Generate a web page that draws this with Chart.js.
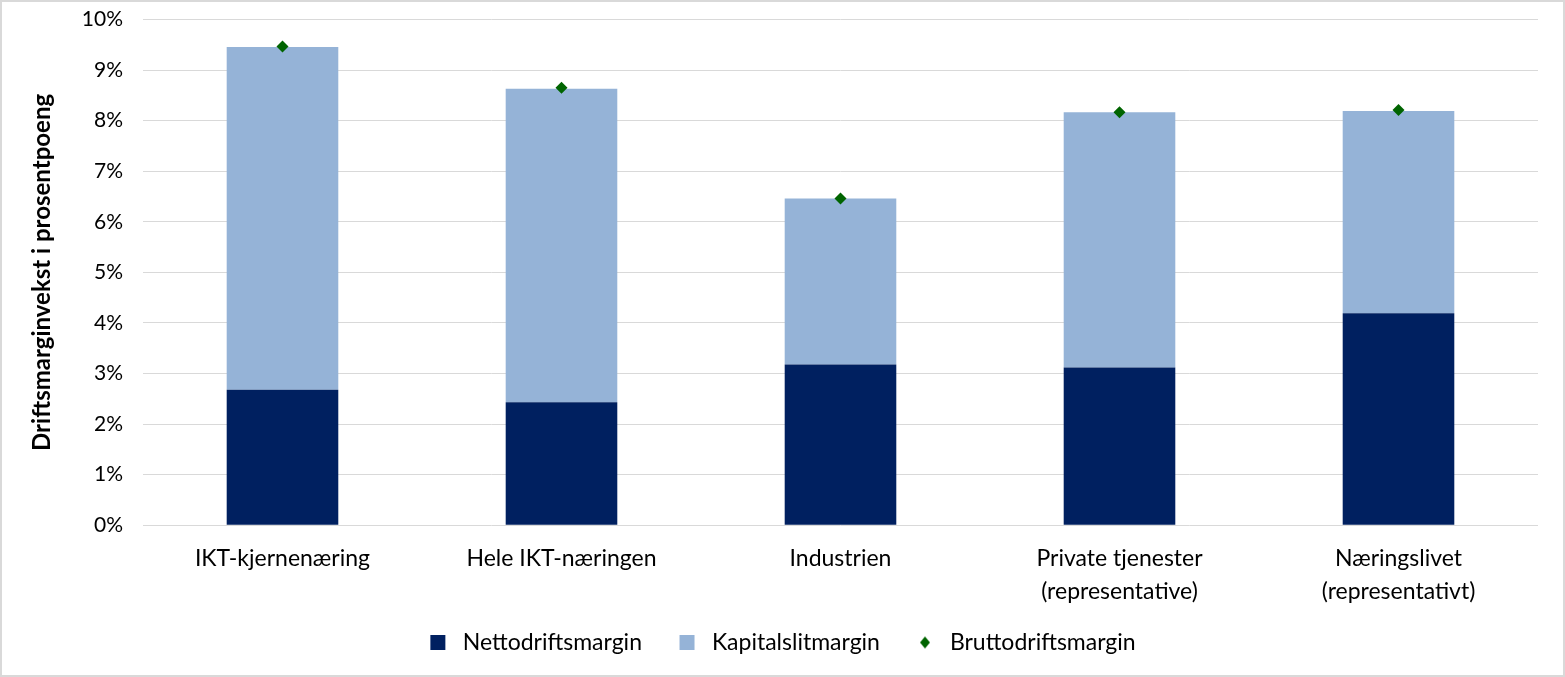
<!DOCTYPE html>
<html>
<head>
<meta charset="utf-8">
<script src="https://cdn.jsdelivr.net/npm/chart.js@4.4.1/dist/chart.umd.min.js"></script>
<style>
  html, body { margin: 0; padding: 0; background: #fff; }
  #wrap { width: 1565px; height: 677px; box-sizing: border-box; border: 2px solid #d9d9d9; }
</style>
</head>
<body>
<div id="wrap"><canvas id="chart"></canvas></div>
<script>
// ── Data ───────────────────────────────────────────────
const categories = [
  'IKT-kjernenæring',
  'Hele IKT-næringen',
  'Industrien',
  ['Private tjenester', '(representative)'],
  ['Næringslivet', '(representativt)'],
];
const nettodrift  = [2.68, 2.43, 3.18, 3.12, 4.19];
const kapitalslit = [6.78, 6.20, 3.28, 5.05, 4.00];
const bruttodrift = [9.47, 8.65, 6.46, 8.17, 8.21];
const yTicks = [0, 1, 2, 3, 4, 5, 6, 7, 8, 9, 10];

const FONT = "Lato, 'Liberation Sans', sans-serif";
const TXT  = '#000000';
const GREEN = '#006400';

// small diamond for the legend entry
const legendDiamond = (() => {
  const c = document.createElement('canvas');
  c.width = 12; c.height = 14;
  const g = c.getContext('2d');
  g.fillStyle = GREEN;
  g.beginPath();
  g.moveTo(6, 1); g.lineTo(11, 7); g.lineTo(6, 13); g.lineTo(1, 7);
  g.closePath(); g.fill();
  return c;
})();

new Chart(document.getElementById('chart'), {
  data: {
    labels: categories,
    datasets: [
      {
        type: 'line', label: 'Bruttodriftsmargin', data: bruttodrift,
        showLine: false, stack: 'brutto', order: 0,
        pointStyle: 'rectRot', pointRadius: 6, pointHoverRadius: 6,
        backgroundColor: GREEN, borderColor: GREEN, borderWidth: 0,
      },
      {
        type: 'bar', label: 'Nettodriftsmargin', data: nettodrift,
        stack: 'margin', order: 1,
        backgroundColor: '#002060', borderWidth: 0,
        barPercentage: 0.4, categoryPercentage: 1,
      },
      {
        type: 'bar', label: 'Kapitalslitmargin', data: kapitalslit,
        stack: 'margin', order: 1,
        backgroundColor: '#95b3d7', borderWidth: 0,
        barPercentage: 0.4, categoryPercentage: 1,
      },
    ]
  },
  options: {
    responsive: true, maintainAspectRatio: false, animation: false,
    layout: { padding: { top: 0, right: 25, left: 26, bottom: 11 } },
    plugins: {
      tooltip: { enabled: false },
      legend: {
        position: 'bottom',
        labels: {
          color: TXT, font: { family: FONT, size: 23 },
          usePointStyle: true, boxWidth: 15, boxHeight: 15, padding: 14,
          generateLabels: chart => {
            const order = [1, 2, 0];
            return order.map((i, k) => {
              const ds = chart.data.datasets[i];
              // spaces widen the gap between legend entries, like the original
              const gap = k < order.length - 1 ? '    ' : '';
              return {
                text: ' ' + ds.label + gap, datasetIndex: i,
                fillStyle: ds.backgroundColor, strokeStyle: ds.backgroundColor,
                lineWidth: 0, fontColor: TXT,
                pointStyle: ds.type === 'line' ? legendDiamond : 'rect',
              };
            });
          }
        }
      }
    },
    scales: {
      x: {
        stacked: true,
        grid: { display: false },
        border: { display: false },
        ticks: { color: TXT, font: { family: FONT, size: 23, lineHeight: 1.43 }, padding: 9, maxRotation: 0 },
      },
      y: {
        stacked: true, min: 0, max: 10,
        afterBuildTicks: axis => { axis.ticks = yTicks.map(v => ({ value: v })); },
        grid: { color: '#d9d9d9', lineWidth: 1, drawTicks: true, tickLength: 15, tickColor: 'rgba(0,0,0,0)' },
        border: { display: false },
        ticks: { color: TXT, font: { family: FONT, size: 21 }, padding: 5, callback: v => v + '%' },
        title: {
          display: true, text: 'Driftsmarginvekst i prosentpoeng',
          color: TXT, font: { family: FONT, size: 24, weight: 'bold' }, padding: { top: 0, bottom: 20 },
        },
      }
    }
  }
});
</script>
</body>
</html>
